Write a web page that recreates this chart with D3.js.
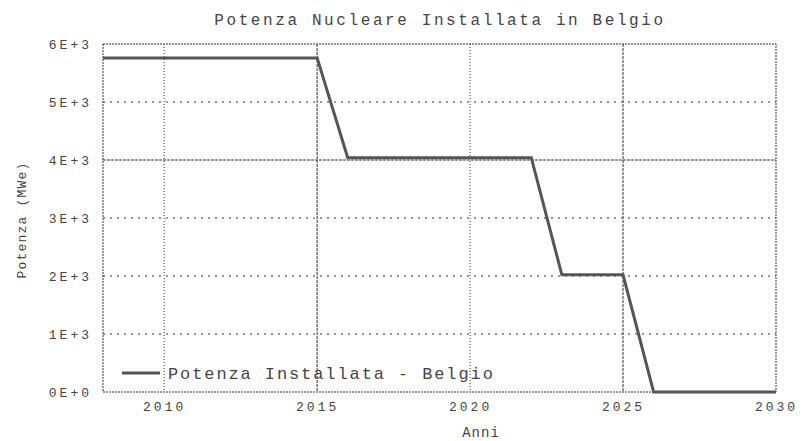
<!DOCTYPE html>
<html>
  <head>
    <meta charset="utf-8">
    <title>Potenza Nucleare Belgio</title>
    <script src="https://d3js.org/d3.v7.min.js"></script>
    <style>
      body { margin: 0; background: #fff; }
      text { font-family: "Liberation Mono", "DejaVu Sans Mono", monospace; fill: #444; }
    </style>
  </head>
  <body>
    <div class="chart"></div>
    <script>
      // data
      var years = [2008, 2015, 2016, 2022, 2023, 2025, 2026, 2030];
      var power = [5760, 5760, 4040, 4040, 2020, 2020, 0, 0];
      var xTicks = [2010, 2015, 2020, 2025, 2030];
      var yTicks = [0, 1000, 2000, 3000, 4000, 5000, 6000];

      var width = 806, height = 441;
      var margin = {top: 44, right: 30, bottom: 49, left: 103};

      var svg = d3.select(".chart").append("svg")
        .attr("width", width)
        .attr("height", height);

      var x = d3.scaleLinear()
        .domain([2008, 2030])
        .range([margin.left, width - margin.right]);

      var y = d3.scaleLinear()
        .domain([0, 6000])
        .range([height - margin.bottom, margin.top]);

      // grid
      svg.append("g")
        .selectAll("line")
        .data(xTicks.slice(0, -1))
        .enter().append("line")
          .attr("x1", d => x(d)).attr("x2", d => x(d))
          .attr("y1", y(6000)).attr("y2", y(0))
          .attr("stroke", "#333")
          .attr("stroke-width", 1)
          .attr("stroke-dasharray", d => (d % 10 == 5) ? "3,1" : "1,2");

      svg.append("g")
        .selectAll("line")
        .data(yTicks.slice(1, -1))
        .enter().append("line")
          .attr("x1", x(2008)).attr("x2", x(2030))
          .attr("y1", d => y(d)).attr("y2", d => y(d))
          .attr("stroke", "#333")
          .attr("stroke-width", 1)
          .attr("stroke-dasharray", d => d == 4000 ? "3,1" : "2,5");

      // frame
      svg.append("rect")
        .attr("x", x(2008)).attr("y", y(6000))
        .attr("width", x(2030) - x(2008))
        .attr("height", y(0) - y(6000))
        .attr("fill", "none")
        .attr("stroke", "#333")
        .attr("stroke-dasharray", "2,1");

      // axes
      var xAxis = d3.axisBottom(x)
        .tickValues(xTicks)
        .tickSize(0)
        .tickPadding(10)
        .tickFormat(d3.format("d"));

      var yAxis = d3.axisLeft(y)
        .tickValues(yTicks)
        .tickSize(0)
        .tickPadding(11)
        .tickFormat(d => d == 0 ? "0E+0" : (d / 1000) + "E+3");

      var gx = svg.append("g")
        .attr("transform", "translate(0," + y(0) + ")")
        .call(xAxis);
      var gy = svg.append("g")
        .attr("transform", "translate(" + x(2008) + ",0)")
        .call(yAxis);

      gx.select(".domain").remove();
      gy.select(".domain").remove();
      gx.selectAll("text")
        .style("font-size", "13px")
        .style("letter-spacing", "3px")
        .style("fill", "#444");
      gy.selectAll("text")
        .style("font-size", "13px")
        .style("letter-spacing", "3px")
        .style("fill", "#444");

      // line
      var line = d3.line()
        .x((d, i) => x(years[i]))
        .y(d => y(d));

      svg.append("path")
        .datum(power)
        .attr("d", line)
        .attr("fill", "none")
        .attr("stroke", "#555")
        .attr("stroke-width", 3);

      // legend
      svg.append("line")
        .attr("x1", 122).attr("x2", 160)
        .attr("y1", 373).attr("y2", 373)
        .attr("stroke", "#555")
        .attr("stroke-width", 3);

      svg.append("text")
        .attr("x", 168).attr("y", 379)
        .style("font-size", "17px")
        .style("letter-spacing", "1.9px")
        .text("Potenza Installata - Belgio");

      // titles
      svg.append("text")
        .attr("x", 440).attr("y", 25)
        .attr("text-anchor", "middle")
        .style("font-size", "16px")
        .style("letter-spacing", "2.6px")
        .text("Potenza Nucleare Installata in Belgio");

      svg.append("text")
        .attr("x", 481).attr("y", 437)
        .attr("text-anchor", "middle")
        .style("font-size", "14px")
        .style("letter-spacing", "1px")
        .text("Anni");

      svg.append("text")
        .attr("transform", "translate(26,220) rotate(-90)")
        .attr("text-anchor", "middle")
        .style("font-size", "13px")
        .style("letter-spacing", "1.2px")
        .text("Potenza (MWe)");
    </script>
  </body>
</html>
